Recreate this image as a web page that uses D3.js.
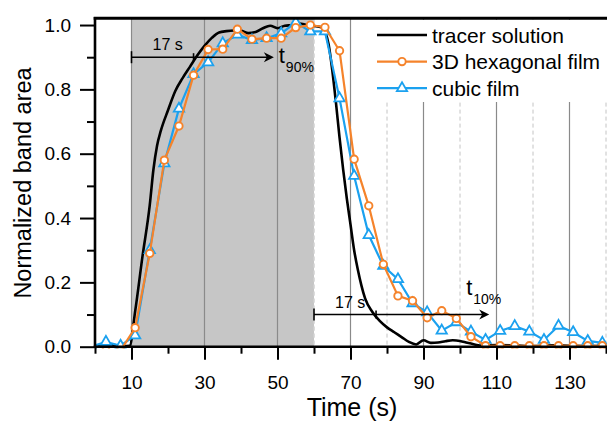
<!DOCTYPE html>
<html>
<head>
<meta charset="utf-8">
<script src="https://cdn.jsdelivr.net/npm/d3@7"></script>
<style>
  body { margin: 0; background: #fff; }
  svg { display: block; font-family: "Liberation Sans", Arial, sans-serif; }
</style>
</head>
<body>
<svg id="chart" width="607" height="426"></svg>
<script>
// tracer solution
const tracerTime = [0, 2, 4, 6, 8, 9.5, 11, 13, 15, 16, 17, 18, 20, 22, 24, 26, 28, 30, 32, 34, 36, 38, 40, 42, 44, 46, 48, 50, 52, 54, 56, 58, 60, 62, 63, 64, 65, 66, 67, 68, 69, 70, 71, 72, 73, 74, 76, 78, 80, 82, 84, 86, 88, 90, 92, 94, 96, 98, 100, 102, 104, 106, 110, 115, 120, 125, 130, 135, 140];
const tracerArea = [0.002, 0.004, 0.006, 0.004, 0.002, 0.003, 0.11, 0.28, 0.44, 0.55, 0.625, 0.67, 0.735, 0.795, 0.835, 0.87, 0.905, 0.935, 0.96, 0.977, 0.981, 0.983, 0.982, 0.975, 0.978, 0.99, 0.998, 0.99, 0.998, 1.0, 1.005, 1.0, 0.997, 0.993, 0.98, 0.94, 0.86, 0.76, 0.65, 0.55, 0.46, 0.38, 0.3, 0.24, 0.19, 0.15, 0.108, 0.08, 0.06, 0.045, 0.03, 0.015, 0.007, 0.02, 0.012, 0.013, 0.017, 0.02, 0.018, 0.012, 0.007, 0.003, 0.005, 0.004, 0.002, 0.004, 0.003, 0.002, 0.002];

// both films were sampled every 4 s
const filmTime = [-1, 3, 7, 11, 15, 19, 23, 27, 31, 35, 39, 43, 47, 51, 55, 59, 63, 67, 71, 75, 79, 83, 87, 91, 95, 99, 103, 107, 111, 115, 119, 123, 127, 131, 135, 139];
const hexArea = [-0.012, -0.012, -0.012, 0.059, 0.29, 0.58, 0.686, 0.844, 0.924, 0.925, 0.987, 0.956, 0.959, 0.959, 0.992, 1.0, 0.993, 0.92, 0.583, 0.438, 0.256, 0.158, 0.143, 0.09, 0.112, 0.088, 0.031, 0.003, 0.003, 0.003, 0.003, 0.003, 0.003, 0.003, 0.003, 0.003];
const cubicArea = [0, 0.015, 0.003, 0.035, 0.30, 0.57, 0.74, 0.847, 0.884, 0.943, 0.97, 0.953, 0.959, 0.974, 1.008, 0.98, 0.98, 0.772, 0.531, 0.347, 0.251, 0.21, 0.135, 0.107, 0.05, 0.076, 0.047, 0.021, 0.049, 0.064, 0.047, 0.021, 0.065, 0.045, 0.018, 0.012];

const seriesNames = ["tracer solution", "3D hexagonal film", "cubic film"];
const xMajor = [10, 30, 50, 70, 90, 110, 130];
const xMinor = [0, 20, 40, 60, 80, 100, 120, 140];
const yMajor = [0, 0.2, 0.4, 0.6, 0.8, 1.0];
const yMinor = [0.1, 0.3, 0.5, 0.7, 0.9];

// grey window = tracer pulse, arrows mark t90 / t10
const pulse = [10, 60];
const arrows = [
  { from: 10, to: 49, mark: 27, level: 0.9, label: "17 s", sub: "90%" },
  { from: 60, to: 108, mark: 77, level: 0.1, label: "17 s", sub: "10%" }
];

const ORANGE = "#f5832b";
const BLUE = "#1ba1ef";

const svg = d3.select("#chart");
const x = d3.scaleLinear().domain([0, 140]).range([95, 606]);
const y = d3.scaleLinear().domain([0, 1.02]).range([346.7, 18.6]);

svg.append("defs").append("clipPath").attr("id", "plot")
  .append("rect").attr("x", 95).attr("y", 18).attr("width", 512).attr("height", 330.5);

// minor dashed grid first so the grey window hides the ones inside it
svg.append("g").selectAll("line")
  .data(xMinor.filter(d => d > 0))
  .join("line")
  .attr("x1", d => x(d)).attr("x2", d => x(d))
  .attr("y1", y.range()[1]).attr("y2", y(0))
  .attr("stroke", "#c4c4c4").attr("stroke-width", 1)
  .attr("stroke-dasharray", "4,3");

svg.append("rect")
  .attr("x", x(pulse[0])).attr("y", y.range()[1])
  .attr("width", x(pulse[1]) - x(pulse[0]))
  .attr("height", y(0) - y.range()[1])
  .attr("fill", "#c6c6c6");

svg.append("line")
  .attr("x1", x(pulse[1])).attr("x2", x(pulse[1]))
  .attr("y1", y.range()[1]).attr("y2", y(0))
  .attr("stroke", "#d8d8d8").attr("stroke-dasharray", "4,3");

svg.append("g").selectAll("line")
  .data(xMajor)
  .join("line")
  .attr("x1", d => x(d)).attr("x2", d => x(d))
  .attr("y1", y.range()[1]).attr("y2", y(0))
  .attr("stroke", "#8a8a8a").attr("stroke-width", 1.2);

// data
const plot = svg.append("g").attr("clip-path", "url(#plot)");

const tracer = tracerTime.map((t, i) => ({ t, v: tracerArea[i] }));
const hex = filmTime.map((t, i) => ({ t, v: hexArea[i] }));
const cubic = filmTime.map((t, i) => ({ t, v: cubicArea[i] }));

const line = d3.line().x(d => x(d.t)).y(d => y(d.v));

plot.append("path").datum(tracer)
  .attr("d", line.curve(d3.curveMonotoneX))
  .attr("fill", "none").attr("stroke", "#000").attr("stroke-width", 2.6);

line.curve(d3.curveLinear);

plot.append("path").datum(cubic)
  .attr("d", line)
  .attr("fill", "none").attr("stroke", BLUE).attr("stroke-width", 2.2);
const tri = d3.symbol().type(d3.symbolTriangle).size(46);
plot.append("g").selectAll("path")
  .data(cubic)
  .join("path")
  .attr("d", tri)
  .attr("transform", d => `translate(${x(d.t)},${y(d.v)})`)
  .attr("fill", "#fff").attr("stroke", BLUE).attr("stroke-width", 1.8);

plot.append("path").datum(hex)
  .attr("d", line)
  .attr("fill", "none").attr("stroke", ORANGE).attr("stroke-width", 2.2);
plot.append("g").selectAll("circle")
  .data(hex)
  .join("circle")
  .attr("cx", d => x(d.t)).attr("cy", d => y(d.v)).attr("r", 3.7)
  .attr("fill", "#fff").attr("stroke", ORANGE).attr("stroke-width", 1.9);

// arrows
const ann = svg.append("g");
arrows.forEach((a, i) => {
  const yy = y(a.level);
  ann.append("line")
    .attr("x1", x(a.from)).attr("x2", x(a.to) - 6)
    .attr("y1", yy).attr("y2", yy)
    .attr("stroke", "#000").attr("stroke-width", 1.6);
  ann.append("line")
    .attr("x1", x(a.from)).attr("x2", x(a.from))
    .attr("y1", yy - 6).attr("y2", yy + 6)
    .attr("stroke", "#000").attr("stroke-width", 1.6);
  ann.append("line")
    .attr("x1", x(a.mark)).attr("x2", x(a.mark))
    .attr("y1", yy - 4).attr("y2", yy + 4)
    .attr("stroke", "#000").attr("stroke-width", 1.6);
  const tip = x(a.to);
  ann.append("path")
    .attr("d", `M${tip},${yy} L${tip - 10},${yy - 5} L${tip - 7},${yy} L${tip - 10},${yy + 5} Z`)
    .attr("fill", "#000");
  ann.append("text")
    .attr("x", x(a.from) + 21).attr("y", yy - 7)
    .attr("font-size", 16).text(a.label);
  // t label sits right of the first tip, above the second one
  const tx = i === 0 ? tip + 5 : tip - 23;
  const ty = i === 0 ? yy + 6 : yy - 20;
  ann.append("text")
    .attr("x", tx).attr("y", ty)
    .attr("font-size", 22).text("t");
  ann.append("text")
    .attr("x", tx + 7).attr("y", ty + 9)
    .attr("font-size", 14).text(a.sub);
});

// axes
const xAxis = svg.append("g").attr("transform", `translate(0,${y(0)})`);
xAxis.call(d3.axisBottom(x).tickValues(xMajor).tickSize(13).tickPadding(16).tickFormat(d3.format("d")));
const xMinorAxis = svg.append("g").attr("transform", `translate(0,${y(0)})`);
xMinorAxis.call(d3.axisBottom(x).tickValues(xMinor).tickSize(7).tickFormat(""));

const yAxis = svg.append("g").attr("transform", `translate(${x(0)},0)`);
yAxis.call(d3.axisLeft(y).tickValues(yMajor).tickSize(15).tickPadding(9).tickFormat(d3.format(".1f")));
const yMinorAxis = svg.append("g").attr("transform", `translate(${x(0)},0)`);
yMinorAxis.call(d3.axisLeft(y).tickValues(yMinor).tickSize(8).tickFormat(""));

[xAxis, xMinorAxis, yAxis, yMinorAxis].forEach(g => {
  g.select(".domain").remove();
  g.selectAll(".tick line").attr("stroke", "#000").attr("stroke-width", 2);
  g.selectAll(".tick text").attr("fill", "#000").attr("font-size", 19)
    .attr("font-family", "Liberation Sans, Arial, sans-serif");
});

// legend box (white, no border) covers the grid behind it
const legend = svg.append("g");
legend.append("rect")
  .attr("x", 362).attr("y", 20).attr("width", 245).attr("height", 82)
  .attr("fill", "#fff");
const legendColors = ["#000", ORANGE, BLUE];
seriesNames.forEach((name, i) => {
  const ly = 35 + i * 26.6;
  legend.append("line")
    .attr("x1", 377).attr("x2", 427).attr("y1", ly).attr("y2", ly)
    .attr("stroke", legendColors[i]).attr("stroke-width", i === 0 ? 2.6 : 2.2);
  if (i === 1) {
    legend.append("circle").attr("cx", 402).attr("cy", ly).attr("r", 3.7)
      .attr("fill", "#fff").attr("stroke", ORANGE).attr("stroke-width", 1.9);
  }
  if (i === 2) {
    legend.append("path").attr("d", tri).attr("transform", `translate(402,${ly})`)
      .attr("fill", "#fff").attr("stroke", BLUE).attr("stroke-width", 1.8);
  }
  legend.append("text")
    .attr("x", 432).attr("y", ly + 7.5)
    .attr("font-size", 21).text(name);
});

// frame: left + bottom axis lines, top border
svg.append("line")
  .attr("x1", x(0)).attr("x2", x(0)).attr("y1", 17).attr("y2", y(0) + 1.3)
  .attr("stroke", "#000").attr("stroke-width", 2.6);
svg.append("line")
  .attr("x1", x(0) - 1.3).attr("x2", 607).attr("y1", y(0)).attr("y2", y(0))
  .attr("stroke", "#000").attr("stroke-width", 2.6);
svg.append("line")
  .attr("x1", x(0) - 1.3).attr("x2", 607).attr("y1", 18.3).attr("y2", 18.3)
  .attr("stroke", "#000").attr("stroke-width", 3);

// axis titles
svg.append("text")
  .attr("x", 352).attr("y", 416)
  .attr("text-anchor", "middle").attr("font-size", 25)
  .text("Time (s)");
svg.append("text")
  .attr("transform", "translate(31,183) rotate(-90)")
  .attr("text-anchor", "middle").attr("font-size", 23.5)
  .text("Normalized band area");
</script>
</body>
</html>
